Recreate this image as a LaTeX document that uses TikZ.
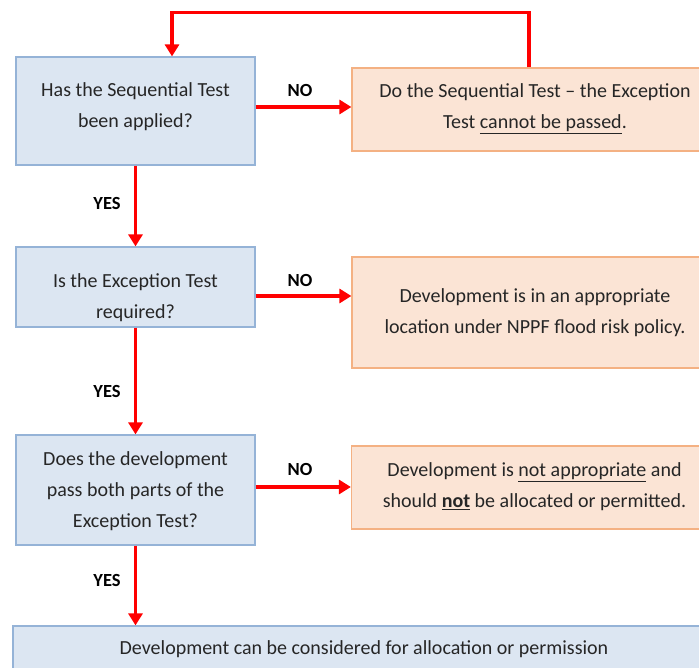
\documentclass[tikz,border=0pt]{standalone}
\usepackage{fontspec}
\setmainfont{Carlito}
\usetikzlibrary{arrows.meta,calc}

\definecolor{qfill}{HTML}{DCE6F2}
\definecolor{qline}{HTML}{95B3D7}
\definecolor{afill}{HTML}{FBE4D5}
\definecolor{aline}{HTML}{F4B183}
\definecolor{flow}{HTML}{FF0000}
\definecolor{ink}{HTML}{262626}

\tikzset{
  every node/.style={font=\fontsize{20}{31}\selectfont, text=ink},
  question/.style={draw=qline, fill=qfill, line width=1.2pt,
    inner sep=0pt, minimum width=239pt},
  answer/.style={draw=aline, fill=afill, line width=1.2pt,
    inner sep=0pt, minimum width=366pt},
  words/.style={align=center, inner sep=0pt},
  flowarrow/.style={draw=flow, line width=3.6pt,
    -{Triangle[length=12pt,width=14pt]}},
  tag/.style={font=\fontsize{18.5}{20}\selectfont\bfseries, text=black}
}

\begin{document}
\begin{tikzpicture}[x=1pt,y=-1pt]
  \useasboundingbox (0,0) rectangle (699,668);
  \clip (0,0) rectangle (699,668);

  % decision boxes
  \node[question, minimum height=108pt] (b1) at (135.5,111) {};
  \node[question, minimum height=80pt] (b2) at (135.5,287) {};
  \node[question, minimum height=110pt] (b3) at (135.5,490) {};
  \node[words] (t1) at ([yshift=4]b1.center) {Has the Sequential Test\\been applied?};
  \node[words] (t2) at ([yshift=-11]b2.center) {Is the Exception Test\\required?};
  \node[words] (t3) at ([yshift=-1.5]b3.center) {Does the development\\pass both parts of the\\Exception Test?};

  % outcome boxes
  \node[answer, minimum height=83pt] (o1) at (535,109.5) {};
  \node[answer, minimum height=111pt] (o2) at (535,312.5) {};
  \node[answer, minimum height=83pt] (o3) at (534.5,487.5) {};
  \node[words] (u1) at ([yshift=1]o1.center)
    {Do the Sequential Test -- the Exception\\Test \underline{cannot be passed}.};
  \node[words] (u2) at (o2.center)
    {Development is in an appropriate\\location under NPPF flood risk policy.};
  \node[words] (u3) at ([yshift=0.5]o3.center)
    {Development is \underline{not appropriate} and\\should \underline{\textbf{not}} be allocated or permitted.};

  \node[question, minimum width=702pt, minimum height=44pt] (fin) at (364,648) {};
  \node[words] (tf) at ([yshift=-1.5]fin.center)
    {Development can be considered for allocation or permission};

  % NO branches
  \path (b1.east) ++(0,-4) coordinate (n1);
  \path (b2.east) ++(0,9) coordinate (n2);
  \path (b3.east) ++(0,-3) coordinate (n3);
  \draw[flowarrow] (n1) -- (n1 -| o1.west);
  \draw[flowarrow] (n2) -- (n2 -| o2.west);
  \draw[flowarrow] (n3) -- (n3 -| o3.west);
  \node[tag] (no1) at (300,91) {NO};
  \node[tag] (no2) at (300,280) {NO};
  \node[tag] (no3) at (300,469) {NO};

  % YES branches
  \draw[flowarrow] (b1.south) -- (b2.north);
  \draw[flowarrow] (b2.south) -- (b3.north);
  \draw[flowarrow] (b3.south) -- (b3.south |- fin.north);
  \node[tag] (yes1) at (107,203) {YES};
  \node[tag] (yes2) at (107,391) {YES};
  \node[tag] (yes3) at (107,580) {YES};

  % loop back after doing the Sequential Test
  \coordinate (lx) at (529,0);
  \coordinate (ly) at (0,12.5);
  \coordinate (bx) at (172,0);
  \draw[flowarrow] (o1.north -| lx) |- (bx |- ly) -- (bx |- b1.north);
\end{tikzpicture}
\end{document}
